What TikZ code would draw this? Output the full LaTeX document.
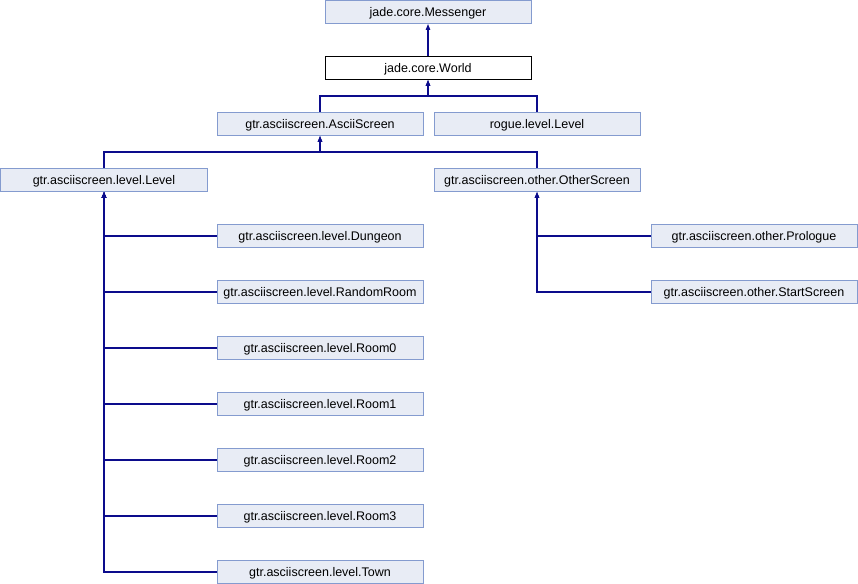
\documentclass[tikz,border=0pt]{standalone}
\usepackage{fontspec}
\setmainfont{Liberation Sans}
\usetikzlibrary{arrows.meta}
\definecolor{boxfill}{RGB}{232,236,245}
\definecolor{boxline}{RGB}{132,155,207}
\definecolor{edgeblue}{RGB}{12,12,140}
\begin{document}
\begin{tikzpicture}[x=1bp,y=-1bp,
  cls/.style={draw=boxline, fill=boxfill, line width=1bp, minimum width=206bp,
    minimum height=23bp, inner sep=0pt, text height=9bp, text depth=0bp,
    font=\fontsize{12.5bp}{14bp}\selectfont},
  cur/.style={cls, draw=black, fill=white},
  edge/.style={draw=edgeblue, line width=1.2bp, -{Triangle[width=4.5bp,length=6bp]}}]
\useasboundingbox (0,0) rectangle (858,584);

% class boxes
\node[cls] (messenger) at (428,12) {jade.core.Messenger};
\node[cur] (world) at (428,68) {jade.core.World};
\node[cls] (ascii) at (320,124) {gtr.asciiscreen.AsciiScreen};
\node[cls] (roguelevel) at (537,124) {rogue.level.Level};
\node[cls] (level) at (104,180) {gtr.asciiscreen.level.Level};
\node[cls] (other) at (537,180) {gtr.asciiscreen.other.OtherScreen};
\node[cls] (dungeon) at (320,236) {gtr.asciiscreen.level.Dungeon};
\node[cls] (random) at (320,292) {gtr.asciiscreen.level.RandomRoom};
\node[cls] (room0) at (320,348) {gtr.asciiscreen.level.Room0};
\node[cls] (room1) at (320,404) {gtr.asciiscreen.level.Room1};
\node[cls] (room2) at (320,460) {gtr.asciiscreen.level.Room2};
\node[cls] (room3) at (320,516) {gtr.asciiscreen.level.Room3};
\node[cls] (town) at (320,572) {gtr.asciiscreen.level.Town};
\node[cls] (prologue) at (754,236) {gtr.asciiscreen.other.Prologue};
\node[cls] (start) at (754,292) {gtr.asciiscreen.other.StartScreen};

% inheritance edges
\draw[edge] (world.north) -- (messenger.south);
\draw[edge] (ascii.north) -- ++(0,-16) -| (world.south);
\draw[edge] (roguelevel.north) -- ++(0,-16) -| (world.south);
\draw[edge] (level.north) -- ++(0,-16) -| (ascii.south);
\draw[edge] (other.north) -- ++(0,-16) -| (ascii.south);
\foreach \c in {dungeon,random,room0,room1,room2,room3,town}
  \draw[edge] (\c.west) -| (level.south);
\foreach \c in {prologue,start}
  \draw[edge] (\c.west) -| (other.south);
\end{tikzpicture}
\end{document}
